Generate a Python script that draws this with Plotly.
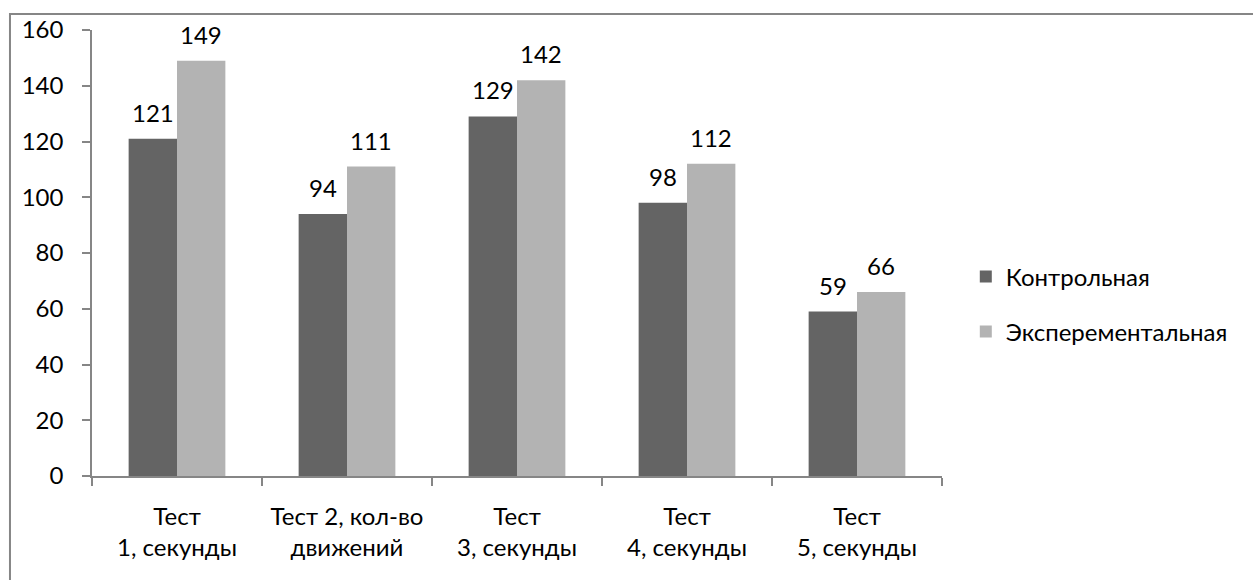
import plotly.graph_objects as go

categories = ["Тест<br>1, секунды", "Тест 2, кол-во<br>движений", "Тест<br>3, секунды",
              "Тест<br>4, секунды", "Тест<br>5, секунды"]
control = [121, 94, 129, 98, 59]
experimental = [149, 111, 142, 112, 66]
series_names = ["Контрольная", "Эксперементальная"]
y_ticks = [0, 20, 40, 60, 80, 100, 120, 140, 160]

FONT = "Lato"
FS = 24
DARK = "#646464"
LIGHT = "#b3b3b3"
AXIS = "#868686"

fig = go.Figure()
fig.add_trace(go.Bar(x=categories, y=control, name=series_names[0],
                     marker=dict(color=DARK, line=dict(width=0)), legendgroup="a"))
fig.add_trace(go.Bar(x=categories, y=experimental, name=series_names[1],
                     marker=dict(color=LIGHT, line=dict(width=0)), legendgroup="b"))

# value labels above each bar
half_bar = 24.2
for vals, shift in ((control, -half_bar), (experimental, half_bar)):
    for c, v in zip(categories, vals):
        fig.add_annotation(x=c, y=v, text=str(v), showarrow=False, xshift=shift,
                           yanchor="bottom", yshift=10,
                           font=dict(family=FONT, size=FS, color="#000000"))

# chart frame
fig.add_shape(type="rect", xref="paper", yref="paper",
              x0=-0.0965, x1=1.4, y0=-0.3, y1=1.036,
              line=dict(color=AXIS, width=2), fillcolor="rgba(0,0,0,0)")

fig.update_layout(
    width=1253, height=580,
    margin=dict(l=92, r=311, t=30, b=104),
    paper_bgcolor="white", plot_bgcolor="white",
    barmode="group", bargap=0.431, bargroupgap=0,
    font=dict(family=FONT, size=FS, color="#000000"),
    showlegend=True,
    legend=dict(x=1.028, xanchor="left", y=0.385, yanchor="middle",
                traceorder="grouped", tracegroupgap=21,
                font=dict(family=FONT, size=FS, color="#000000"),
                bgcolor="rgba(0,0,0,0)"),
)
fig.update_xaxes(showline=True, linecolor=AXIS, linewidth=1.5,
                 ticks="outside", tickson="boundaries", ticklen=8,
                 tickcolor=AXIS, tickwidth=1.5, showgrid=False,
                 ticklabelstandoff=18, tickfont=dict(family=FONT, size=FS))
fig.update_yaxes(range=[0, 160], tickvals=y_ticks, showline=True, linecolor=AXIS,
                 linewidth=1.5, ticks="outside", ticklen=8, tickcolor=AXIS,
                 tickwidth=1.5, showgrid=False, zeroline=False,
                 ticklabelstandoff=14, tickfont=dict(family=FONT, size=FS))

fig.write_html("out.html")
